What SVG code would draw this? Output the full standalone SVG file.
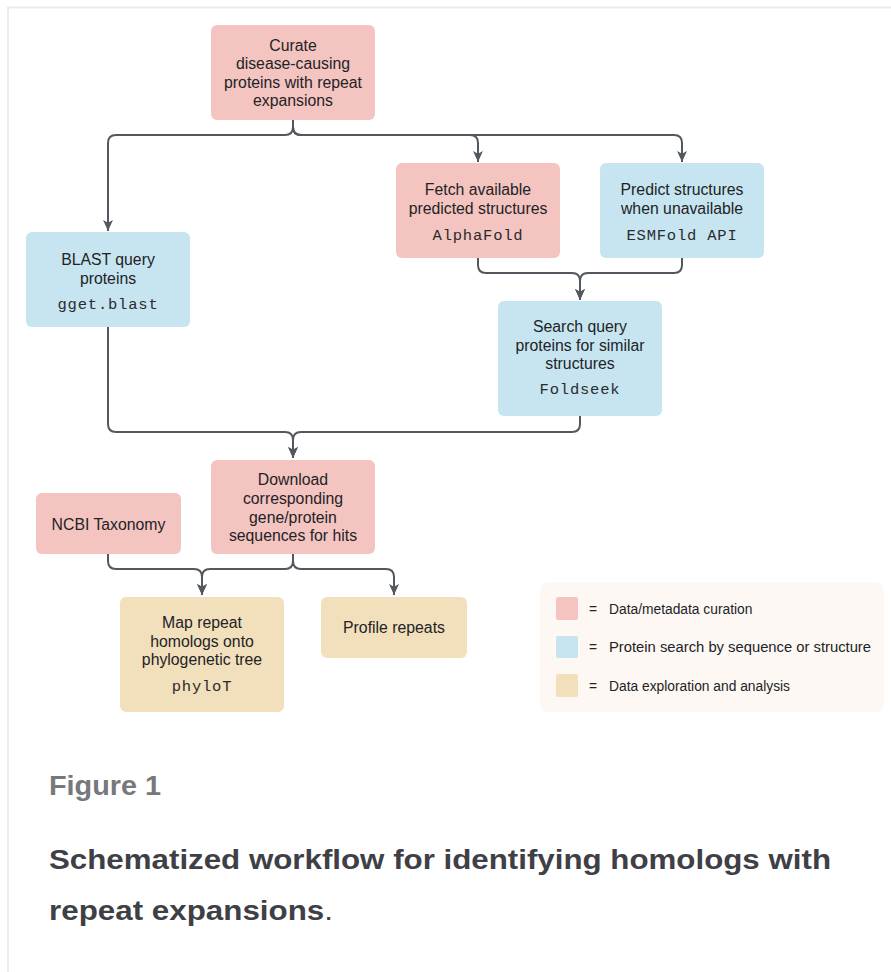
<svg xmlns="http://www.w3.org/2000/svg" width="891" height="972" viewBox="0 0 891 972">
<style>
.pink{fill:#f4c4c0}
.blue{fill:#c6e5f0}
.tan{fill:#f2dfbb}
.t{font-family:"Liberation Sans",Arial,sans-serif;font-size:15.8px;fill:#222326;text-anchor:middle}
.m{font-family:"Liberation Mono","DejaVu Sans Mono",monospace;font-size:15.5px;fill:#2a2b2e;text-anchor:middle;letter-spacing:0.8px}
.lg{font-family:"Liberation Sans",Arial,sans-serif;font-size:13.8px;fill:#222326}
.c{fill:none;stroke:#53585e;stroke-width:2}
</style>
<defs>
<marker id="ah" viewBox="0 0 10 10" refX="10" refY="5" markerWidth="11" markerHeight="11" markerUnits="userSpaceOnUse" orient="auto">
<path d="M0,0.5 L10,5 L0,9.5 L2.5,5 z" fill="#53585e"/>
</marker>
</defs>
<rect width="891" height="972" fill="#ffffff"/>
<path d="M8,972 V7.5 H891" fill="none" stroke="#ebebea" stroke-width="2"/>

<g id="connectors">
<path class="c" marker-end="url(#ah)" d="M293,120 V127 Q293,135 285,135 H116 Q108,135 108,143 V231"/>
<path class="c" marker-end="url(#ah)" d="M293,120 V127 Q293,135 301,135 H470 Q478,135 478,143 V162"/>
<path class="c" marker-end="url(#ah)" d="M293,120 V127 Q293,135 301,135 H674 Q682,135 682,143 V162"/>
<path class="c" marker-end="url(#ah)" d="M478,258 V265 Q478,273 486,273 H572 Q580,273 580,281 V300"/>
<path class="c" marker-end="url(#ah)" d="M682,258 V265 Q682,273 674,273 H588 Q580,273 580,281 V300"/>
<path class="c" marker-end="url(#ah)" d="M108,327 V424 Q108,432 116,432 H285 Q293,432 293,440 V458"/>
<path class="c" marker-end="url(#ah)" d="M580,416 V424 Q580,432 572,432 H301 Q293,432 293,440 V458"/>
<path class="c" marker-end="url(#ah)" d="M108,554 V561 Q108,569 116,569 H194 Q202,569 202,577 V595"/>
<path class="c" marker-end="url(#ah)" d="M293,554 V561 Q293,569 285,569 H210 Q202,569 202,577 V595"/>
<path class="c" marker-end="url(#ah)" d="M293,554 V561 Q293,569 301,569 H386 Q394,569 394,577 V595"/>
</g>

<g id="curate">
<rect class="pink" x="211" y="25" width="164" height="95" rx="6"/>
<text class="t" x="293" y="50.5">Curate</text>
<text class="t" x="293" y="69">disease-causing</text>
<text class="t" x="293" y="87.5">proteins with repeat</text>
<text class="t" x="293" y="106">expansions</text>
</g>

<g id="blast">
<rect class="blue" x="26" y="232" width="164" height="95" rx="6"/>
<text class="t" x="108" y="264.5">BLAST query</text>
<text class="t" x="108" y="283.5">proteins</text>
<text class="m" x="108" y="309">gget.blast</text>
</g>

<g id="fetch">
<rect class="pink" x="396" y="163" width="164" height="95" rx="6"/>
<text class="t" x="478" y="194.5">Fetch available</text>
<text class="t" x="478" y="213.5">predicted structures</text>
<text class="m" x="478" y="240">AlphaFold</text>
</g>

<g id="predict">
<rect class="blue" x="600" y="163" width="164" height="95" rx="6"/>
<text class="t" x="682" y="194.5">Predict structures</text>
<text class="t" x="682" y="213.5">when unavailable</text>
<text class="m" x="682" y="240">ESMFold API</text>
</g>

<g id="search">
<rect class="blue" x="498" y="301" width="164" height="115" rx="6"/>
<text class="t" x="580" y="331.5">Search query</text>
<text class="t" x="580" y="350.5">proteins for similar</text>
<text class="t" x="580" y="368.5">structures</text>
<text class="m" x="580" y="394">Foldseek</text>
</g>

<g id="download">
<rect class="pink" x="211" y="460" width="164" height="94" rx="6"/>
<text class="t" x="293" y="484.5">Download</text>
<text class="t" x="293" y="503.5">corresponding</text>
<text class="t" x="293" y="522.5">gene/protein</text>
<text class="t" x="293" y="540.5">sequences for hits</text>
</g>

<g id="ncbi">
<rect class="pink" x="36" y="493" width="145" height="61" rx="6"/>
<text class="t" x="108.5" y="529.5">NCBI Taxonomy</text>
</g>

<g id="map">
<rect class="tan" x="120" y="597" width="164" height="115" rx="6"/>
<text class="t" x="202" y="627.5">Map repeat</text>
<text class="t" x="202" y="646.5">homologs onto</text>
<text class="t" x="202" y="664.5">phylogenetic tree</text>
<text class="m" x="202" y="691">phyloT</text>
</g>

<g id="profile">
<rect class="tan" x="321" y="597" width="146" height="61" rx="6"/>
<text class="t" x="394" y="632.5">Profile repeats</text>
</g>

<g id="legend">
<rect x="540" y="582" width="344" height="130" rx="8" fill="#fdf8f3"/>
<rect class="pink" x="556" y="597" width="22" height="23" rx="2"/>
<rect class="blue" x="556" y="636" width="22" height="22" rx="2"/>
<rect class="tan" x="556" y="674" width="22" height="23" rx="2"/>
<text class="lg" x="589" y="614">=</text>
<text class="lg" x="609" y="614">Data/metadata curation</text>
<text class="lg" x="589" y="652">=</text>
<text class="lg" x="609" y="652" textLength="262" lengthAdjust="spacingAndGlyphs">Protein search by sequence or structure</text>
<text class="lg" x="589" y="691">=</text>
<text class="lg" x="609" y="691">Data exploration and analysis</text>
</g>

<text x="49" y="795" font-family="'Liberation Sans',Arial,sans-serif" font-size="28" font-weight="bold" fill="#77787c" textLength="112" lengthAdjust="spacingAndGlyphs">Figure 1</text>
<text x="49" y="869" font-family="'Liberation Sans',Arial,sans-serif" font-size="28" font-weight="bold" fill="#3e4045" textLength="782" lengthAdjust="spacingAndGlyphs">Schematized workflow for identifying homologs with</text>
<text x="49" y="920" font-family="'Liberation Sans',Arial,sans-serif" font-size="28" fill="#3e4045" textLength="284" lengthAdjust="spacingAndGlyphs"><tspan font-weight="bold">repeat expansions</tspan>.</text>
</svg>
